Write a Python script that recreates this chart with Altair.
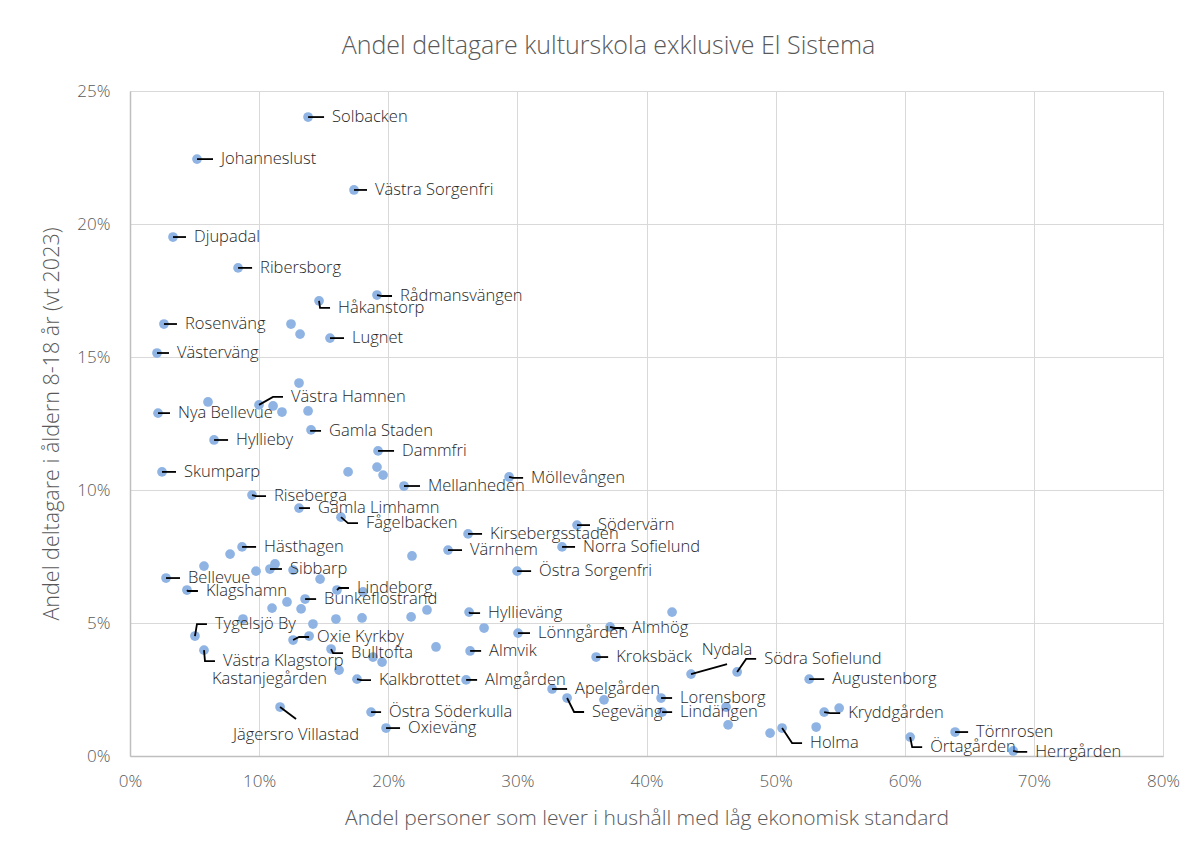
import altair as alt
import pandas as pd

# ---------------- data (percent) ----------------
names = [
    "Solbacken", "Johanneslust", "Västra Sorgenfri", "Djupadal", "Ribersborg",
    "Rådmansvängen", "Håkanstorp", "Rosenväng", "Lugnet", "Västerväng",
    "Västra Hamnen", "Nya Bellevue", "Gamla Staden", "Hyllieby", "Dammfri",
    "Skumparp", "Mellanheden", "Möllevången", "Riseberga", "Gamla Limhamn",
    "Fågelbacken", "Kirsebergsstaden", "Södervärn", "Norra Sofielund", "Värnhem",
    "Östra Sorgenfri", "Hästhagen", "Sibbarp", "Bellevue", "Klagshamn",
    "Lindeborg", "Bunkeflostrand", "Hyllieväng", "Tygelsjö By", "Oxie Kyrkby",
    "Lönngården", "Almhög", "Bulltofta", "Västra Klagstorp", "Almvik",
    "Kroksbäck", "Kastanjegården", "Kalkbrottet", "Almgården", "Nydala",
    "Södra Sofielund", "Augustenborg", "Apelgården", "Segeväng", "Lorensborg",
    "Lindängen", "Jägersro Villastad", "Östra Söderkulla", "Kryddgården", "Oxieväng",
    "Holma", "Törnrosen", "Örtagården", "Herrgården",
]
x_vals = [
    13.79, 5.19, 17.35, 3.33, 8.37,
    19.13, 14.64, 2.63, 15.49, 2.09,
    9.99, 2.17, 14.02, 6.51, 19.21,
    2.48, 21.22, 29.36, 9.45, 13.09,
    16.34, 26.18, 34.62, 33.46, 24.63,
    29.98, 8.68, 10.84, 2.79, 4.41,
    16.03, 13.56, 26.26, 5.03, 12.63,
    30.05, 37.18, 15.57, 5.73, 26.34,
    36.10, 16.19, 17.58, 26.03, 43.45,
    47.02, 52.60, 32.69, 33.85, 41.13,
    41.21, 11.62, 18.67, 53.76, 19.83,
    50.50, 63.90, 60.42, 68.40,
]
y_vals = [
    24.02, 22.44, 21.28, 19.51, 18.35,
    17.33, 17.11, 16.24, 15.71, 15.15,
    13.20, 12.89, 12.26, 11.88, 11.47,
    10.68, 10.15, 10.49, 9.81, 9.32,
    8.98, 8.35, 8.68, 7.86, 7.74,
    6.95, 7.86, 7.03, 6.69, 6.24,
    6.24, 5.90, 5.41, 4.51, 4.36,
    4.62, 4.85, 4.02, 3.98, 3.95,
    3.72, 3.23, 2.89, 2.86, 3.08,
    3.16, 2.89, 2.52, 2.18, 2.18,
    1.65, 1.84, 1.65, 1.65, 1.05,
    1.05, 0.90, 0.71, 0.19,
]

# points without a data label
other_x = [
    12.47, 13.17, 13.09, 6.04, 11.08, 11.77, 13.79, 16.89, 19.13, 19.60,
    21.84, 7.75, 5.73, 9.76, 11.23, 12.63, 14.72, 18.05, 12.16, 11.00,
    13.25, 23.00, 8.75, 15.95, 17.97, 21.77, 14.17, 13.87, 23.70, 18.82,
    19.52, 27.42, 41.98, 36.71, 46.16, 46.32, 54.92, 53.14, 49.57,
]
other_y = [
    16.24, 15.86, 14.02, 13.31, 13.16, 12.93, 12.97, 10.68, 10.86, 10.56,
    7.52, 7.59, 7.14, 6.95, 7.22, 6.99, 6.65, 6.17, 5.79, 5.56,
    5.53, 5.49, 5.15, 5.15, 5.19, 5.23, 4.96, 4.51, 4.10, 3.72,
    3.53, 4.81, 5.41, 2.11, 1.84, 1.17, 1.80, 1.09, 0.86,
]

# ---------------- label layout (pixel offsets from the point) ----------------
# (dx to text anchor, dy to text middle, kind)
label_layout = {
    "Solbacken": (24, 0, "h"), "Johanneslust": (24, 0, "h"), "Västra Sorgenfri": (21, 0, "h"),
    "Djupadal": (21, 0, "h"), "Ribersborg": (22, 0, "h"), "Rådmansvängen": (23, 1, "h"),
    "Håkanstorp": (19, 7, "h"), "Rosenväng": (21, 0, "h"), "Lugnet": (22, 0, "h"),
    "Västerväng": (20, 0, "h"), "Västra Hamnen": (32, -8, "h"), "Nya Bellevue": (20, 0, "h"),
    "Gamla Staden": (18, 1, "h"), "Hyllieby": (22, 0, "h"), "Dammfri": (24, 0, "h"),
    "Skumparp": (22, 0, "h"), "Mellanheden": (24, 0, "h"), "Möllevången": (22, 1, "h"),
    "Riseberga": (22, 1, "h"), "Gamla Limhamn": (19, 0, "h"), "Fågelbacken": (25, 6, "h"),
    "Kirsebergsstaden": (22, 0, "h"), "Södervärn": (21, 0, "h"), "Norra Sofielund": (21, 0, "h"),
    "Värnhem": (22, 0, "h"), "Östra Sorgenfri": (22, 0, "h"), "Hästhagen": (22, 0, "h"),
    "Sibbarp": (20, 0, "h"), "Bellevue": (22, 0, "h"), "Klagshamn": (19, 1, "h"),
    "Lindeborg": (20, -2, "h"), "Bunkeflostrand": (19, 0, "h"), "Hyllieväng": (19, 1, "h"),
    "Tygelsjö By": (20, -12, "h"), "Oxie Kyrkby": (24, -3, "h"), "Lönngården": (20, 0, "h"),
    "Almhög": (22, 1, "h"), "Bulltofta": (20, 4, "h"), "Västra Klagstorp": (19, 11, "h"),
    "Almvik": (19, 0, "h"), "Kroksbäck": (20, 0, "h"), "Kastanjegården": (-12, 9, "right"),
    "Kalkbrottet": (22, 1, "h"), "Almgården": (19, 0, "h"), "Nydala": (36, -24, "center_up"),
    "Södra Sofielund": (27, -13, "h"), "Augustenborg": (23, 0, "h"), "Apelgården": (23, 0, "h"),
    "Segeväng": (25, 14, "h"), "Lorensborg": (19, 0, "h"), "Lindängen": (18, 0, "h"),
    "Jägersro Villastad": (16, 28, "center_down"), "Östra Söderkulla": (18, 0, "h"),
    "Kryddgården": (24, 1, "h"), "Oxieväng": (22, 0, "h"), "Holma": (28, 15, "h"),
    "Törnrosen": (21, 0, "h"), "Örtagården": (20, 10, "h"), "Herrgården": (22, 1, "h"),
}

W, H = 1033, 665
XMAX, YMAX = 80, 25
PX = W / XMAX   # pixels per x unit
PY = H / YMAX   # pixels per y unit

pts = pd.DataFrame({
    "x": x_vals + other_x,
    "y": y_vals + other_y,
})

label_rows, leader_rows = [], []
for n, xv, yv in zip(names, x_vals, y_vals):
    dx, dy, kind = label_layout.get(n, (22, 0, "h"))

    def to_data(ox, oy):
        return xv + ox / PX, yv - oy / PY

    lx, ly = to_data(dx, dy)
    if kind == "h":
        label_rows.append({"name": n, "x": lx, "y": ly, "align": "left"})
        path = [(0, 0), (max(dx - 18, 0), dy), (dx - 8, dy)]
    elif kind == "right":
        label_rows.append({"name": n, "x": lx, "y": ly, "align": "right"})
        path = []
    elif kind == "center_up":
        label_rows.append({"name": n, "x": lx, "y": ly, "align": "center"})
        path = [(0, 0), (dx, dy + 14)]
    else:  # center_down
        label_rows.append({"name": n, "x": lx, "y": ly, "align": "center"})
        path = [(0, 0), (dx, dy - 16)]
    for i, (ox, oy) in enumerate(path):
        px_, py_ = to_data(ox, oy)
        leader_rows.append({"name": n, "o": i, "x": px_, "y": py_})

labels = pd.DataFrame(label_rows)
leaders = pd.DataFrame(leader_rows)

FONT = "Open Sans"
GREY = "#595959"

X = alt.X(
    "x:Q",
    scale=alt.Scale(domain=[0, XMAX], nice=False, zero=True),
    axis=alt.Axis(
        values=list(range(0, 81, 10)),
        labelExpr="datum.value + '%'",
        title="Andel personer som lever i hushåll med låg ekonomisk standard",
        titleFontSize=21, titleColor=GREY, titleFontWeight=300, titleFont=FONT,
        titleX=W / 2, titleY=62, titleBaseline="middle",
        labelFontSize=17, labelColor=GREY, labelFont=FONT, labelFontWeight=300,
        labelPadding=17, labelFlush=False,
        ticks=False, domainColor="#bfbfbf", domainWidth=1.5,
        grid=True, gridColor="#d9d9d9", gridWidth=1,
    ),
)
Y = alt.Y(
    "y:Q",
    scale=alt.Scale(domain=[0, YMAX], nice=False, zero=True),
    axis=alt.Axis(
        values=list(range(0, 26, 5)),
        labelExpr="datum.value + '%'",
        title="Andel deltagare i åldern 8-18 år (vt 2023)",
        titleFontSize=21.5, titleColor=GREY, titleFontWeight=300, titleFont=FONT,
        titleX=-78, titleY=H / 2, titleAngle=270, titleBaseline="middle",
        labelFontSize=17, labelColor=GREY, labelFont=FONT, labelFontWeight=300,
        labelPadding=20, labelFlush=False,
        ticks=False, domainColor="#bfbfbf", domainWidth=1.5,
        grid=True, gridColor="#d9d9d9", gridWidth=1,
    ),
)

points = alt.Chart(pts).mark_circle(size=95, color="#8fb4e3", opacity=1).encode(x=X, y=Y)

lead = alt.Chart(leaders).mark_line(color="#000000", strokeWidth=1.8).encode(
    x=X, y=Y, detail="name:N", order="o:Q"
)


def text_layer(al):
    return alt.Chart(labels[labels["align"] == al]).mark_text(
        align=al, baseline="middle", fontSize=16.5, fontWeight=300,
        color="#262626", font=FONT
    ).encode(x=X, y=Y, text="name:N")


chart = alt.layer(
    points, lead, text_layer("left"), text_layer("right"), text_layer("center")
).properties(
    width=W, height=H,
    title=alt.TitleParams(
        "Andel deltagare kulturskola exklusive El Sistema",
        fontSize=25, color=GREY, font=FONT, fontWeight=300,
        anchor="middle", dx=-38, offset=23,
    ),
    autosize=alt.AutoSizeParams(type="none"),
    padding={"left": 122, "top": 83, "right": 25, "bottom": 80},
).configure_view(stroke=None).configure(background="white")

chart.save("out.html", embed_options={"renderer": "svg", "actions": False})
